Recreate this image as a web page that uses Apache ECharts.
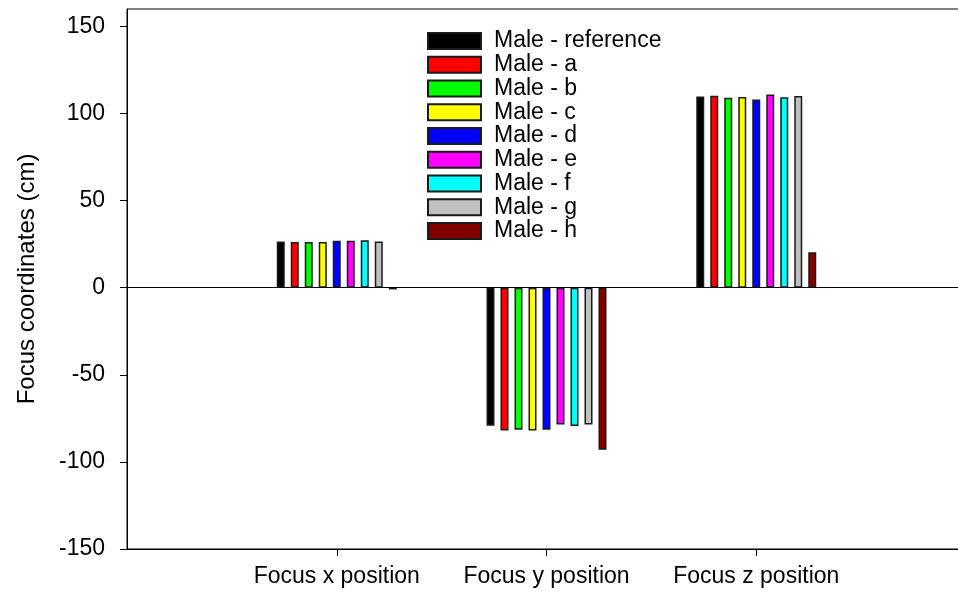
<!DOCTYPE html>
<html>
<head>
<meta charset="utf-8">
<script src="https://cdn.jsdelivr.net/npm/echarts@6/dist/echarts.min.js"></script>
<style>html,body{margin:0;padding:0;background:#fff;}#c{width:958px;height:592px;}</style>
</head>
<body>
<div id="c"></div>
<script>
var categories = ['Focus x position', 'Focus y position', 'Focus z position'];
var seriesNames = ['Male - reference', 'Male - a', 'Male - b', 'Male - c', 'Male - d', 'Male - e', 'Male - f', 'Male - g', 'Male - h'];
var maleRef = [26.5, -79.3, 109.8];
var maleA = [26.3, -82.0, 110.2];
var maleB = [26.3, -81.5, 109.0];
var maleC = [26.3, -82.0, 109.5];
var maleD = [27.0, -81.5, 108.0];
var maleE = [27.0, -78.5, 110.9];
var maleF = [27.2, -79.4, 109.4];
var maleG = [26.5, -78.5, 110.0];
var maleH = [-1.0, -93.0, 20.3];
var yTicks = [-150, -100, -50, 0, 50, 100, 150];

var seriesValues = [maleRef, maleA, maleB, maleC, maleD, maleE, maleF, maleG, maleH];
var colors = ['#000000', '#ff0000', '#00ff00', '#ffff00', '#0000ff', '#ff00ff', '#00ffff', '#c0c0c0', '#800000'];
var FONT = 'Liberation Sans, Arial, Helvetica, sans-serif';
var axisData = [''].concat(categories).concat(['']);

var series = seriesNames.map(function (name, i) {
  var s = {
    name: name,
    type: 'bar',
    barWidth: 8,
    barGap: '75%',
    data: [null].concat(seriesValues[i]).concat([null]),
    itemStyle: { color: colors[i], borderColor: '#1a1a1a', borderWidth: 1.5 }
  };
  if (i === 0) {
    s.markLine = {
      silent: true, symbol: 'none', label: { show: false },
      lineStyle: { color: '#000', width: 1, type: 'solid' },
      data: [{ yAxis: 0 }], animation: false
    };
  }
  return s;
});

var chart = echarts.init(document.getElementById('c'));
chart.setOption({
  animation: false,
  textStyle: { fontFamily: FONT },
  grid: { left: 127, top: 9, width: 839, height: 540, outerBoundsMode: 'none', containLabel: false,
    show: true, borderColor: '#000', borderWidth: 1, backgroundColor: 'transparent' },
  legend: {
    orient: 'vertical', left: 427, top: 29.5, padding: 0,
    itemWidth: 53, itemHeight: 16, itemGap: 0.75,
    icon: 'rect',
    textStyle: { fontFamily: FONT, fontSize: 23, color: '#000', padding: [0, 0, 0, 8] },
    data: seriesNames
  },
  xAxis: {
    type: 'category', data: axisData, boundaryGap: false,
    axisLine: { show: true, onZero: false, lineStyle: { color: '#000', width: 1 } },
    axisTick: { show: true, inside: false, length: 7, lineStyle: { color: '#000' },
      interval: function (idx) { return idx > 0 && idx < axisData.length - 1; } },
    axisLabel: { color: '#000', fontSize: 23, fontFamily: FONT, margin: 16, interval: 0 },
    splitLine: { show: false }
  },
  yAxis: {
    type: 'value', min: -150, max: 160, interval: 50,
    name: 'Focus coordinates (cm)', nameLocation: 'middle', nameGap: 88,
    nameTextStyle: { fontSize: 24, color: '#000', fontFamily: FONT },
    axisLine: { show: true, lineStyle: { color: '#000', width: 1 } },
    axisTick: { show: true, length: 7, lineStyle: { color: '#000' }, customValues: yTicks },
    axisLabel: { color: '#000', fontSize: 23, fontFamily: FONT, margin: 22, customValues: yTicks },
    splitLine: { show: false }
  },
  series: series
});
</script>
</body>
</html>
